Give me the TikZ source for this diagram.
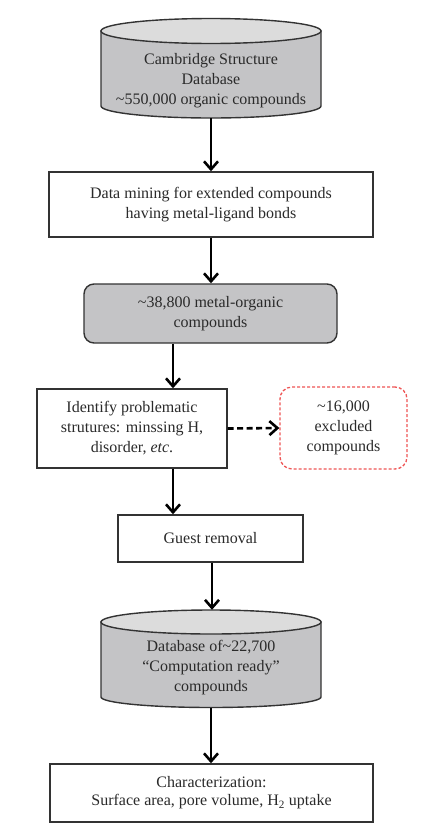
\documentclass[tikz,border=0pt]{standalone}
\usepackage{fontspec}
\setmainfont{Liberation Serif}
\usetikzlibrary{arrows.meta}
\definecolor{edge}{HTML}{333333}
\definecolor{txt}{HTML}{2A2A2A}
\definecolor{bodyfill}{HTML}{C4C4C6}
\definecolor{topfill}{HTML}{DCDCDC}
\definecolor{redd}{HTML}{EE5555}
\begin{document}
\begin{tikzpicture}[x=1pt,y=-1pt,
  every node/.style={font=\fontsize{16}{20}\selectfont, text=txt, align=center, inner sep=0pt},
  plainbox/.style={draw=edge, line width=1.4pt, fill=white},
  graybox/.style={draw=edge, line width=1.4pt, fill=bodyfill, rounded corners=10pt},
  redbox/.style={draw=redd, line width=1.3pt, dashed, dash pattern=on 3pt off 2pt, rounded corners=12pt},
  flow/.style={draw=black, line width=2pt, -{Straight Barb[length=8pt,width=14pt,line width=2.6pt]}},
  dflow/.style={flow, line width=2.6pt, dash pattern=on 6pt off 3.5pt},
  cylbody/.style={draw=edge, line width=1.4pt, fill=bodyfill},
  cyltop/.style={draw=edge, line width=1.4pt, fill=topfill}]
\useasboundingbox (0,0) rectangle (421,830);

% Cylinder 1
\path[cylbody] (101,31) -- (101,106) arc[start angle=180, end angle=360, x radius=110pt, y radius=12pt] -- (321,31) -- cycle;
\path[cyltop] (211,31) ellipse[x radius=110pt, y radius=12.5pt];
\node (c1) [minimum width=220pt, minimum height=100pt] at (211,68) {};
\node (c1t) at (211,81) {Cambridge Structure\\Database\\\textasciitilde550,000 organic compounds};

% Box 2
\node (b2) [plainbox, minimum width=324pt, minimum height=65pt] at (211,204.5) {Data mining for extended compounds\\having metal-ligand bonds};

% Box 3
\node (b3) [graybox, minimum width=253pt, minimum height=59pt] at (210.5,313.5) {\textasciitilde38,800 metal-organic\\compounds};

% Box 4
\node (b4) [plainbox, minimum width=190pt, minimum height=79pt] at (132,428.5) {Identify problematic\\strutures: minssing H,\\disorder, \textit{etc}.};

% Red box
\node (r) [redbox, minimum width=127pt, minimum height=82pt] at (343.5,428) {\textasciitilde16,000\\excluded\\compounds};

% Box 5
\node (b5) [plainbox, minimum width=185pt, minimum height=47pt] at (210.5,538.5) {Guest removal};

% Cylinder 2
\path[cylbody] (101,622) -- (101,697) arc[start angle=180, end angle=360, x radius=110pt, y radius=10.5pt] -- (321,622) -- cycle;
\path[cyltop] (211,622) ellipse[x radius=110pt, y radius=12pt];
\node (c2) [minimum width=220pt, minimum height=97.5pt] at (211,658.75) {};
\node (c2t) at (211,668) {Database of\textasciitilde22,700\\``Computation ready''\\compounds};

% Box 6
\node (b6) [plainbox, minimum width=323pt, minimum height=58pt, font=\fontsize{16}{18}\selectfont] at (211.5,793) {Characterization:\\Surface area, pore volume, H\textsubscript{2} uptake};

% arrow x positions
\coordinate (xa) at (211,0);
\coordinate (xb) at (173,0);
\coordinate (xc) at (212,0);

\draw[flow] (c1.south -| xa) -- (b2.north -| xa);
\draw[flow] (b2.south -| xa) -- (b3.north -| xa);
\draw[flow] (b3.south -| xb) -- (b4.north -| xb);
\draw[dflow] (b4.east) -- (r.west);
\draw[flow] (b4.south -| xb) -- (b5.north -| xb);
\draw[flow] (b5.south -| xc) -- (c2.north -| xc);
\draw[flow] (c2.south -| xa) -- (b6.north -| xa);
\end{tikzpicture}
\end{document}
